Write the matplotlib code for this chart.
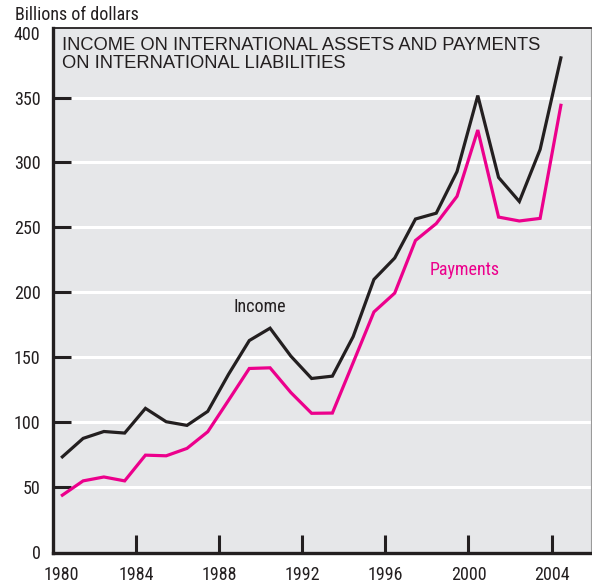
import matplotlib
matplotlib.use("Agg")
import matplotlib.pyplot as plt
from matplotlib import font_manager
from matplotlib.font_manager import FontProperties
import matplotlib.transforms as mtransforms

years = list(range(1980, 2005))
income = [73.5, 87.7, 93.0, 91.8, 110.8, 100.5, 97.7, 108.5, 137, 163, 172.5, 151, 133.8, 135.6,
          166, 210, 226.5, 256.5, 261, 293, 351.5, 288.5, 270, 310, 380.5]
payments = [44, 55, 58, 55, 74.8, 74.3, 80, 92.8, 117, 141.5, 142, 123, 107, 107.2,
            146, 185, 199.5, 240, 253, 274, 325, 258, 255, 257, 344]
xticks = [1980, 1984, 1988, 1992, 1996, 2000, 2004]
yticks = [0, 50, 100, 150, 200, 250, 300, 350, 400]

# find a condensed sans font
cands = []
for f in font_manager.fontManager.ttflist:
    st = str(f.stretch).lower()
    nm = f.name.lower()
    if f.style != "normal":
        continue
    if f.weight not in (400, "normal", "regular"):
        continue
    if "narrow" in nm or "condensed" in nm or "condensed" in st or "narrow" in st:
        cands.append(f)
def rank(f):
    nm = f.name.lower()
    for i, k in enumerate(["liberation sans narrow", "roboto condensed", "open sans", "noto sans", "dejavu sans"]):
        if nm.startswith(k):
            return i
    return 9
cands.sort(key=rank)
if cands:
    narrow_fp = lambda size: FontProperties(fname=cands[0].fname, size=size)
else:
    narrow_fp = lambda size: FontProperties(family="DejaVu Sans", stretch="condensed", size=size)

names = {f.name for f in font_manager.fontManager.ttflist}
regular = "Liberation Sans" if "Liberation Sans" in names else "DejaVu Sans"

fig = plt.figure(figsize=(5.92, 5.84), dpi=100)
ax = fig.add_axes([53/592, 1-553/584, (591-53)/592, (553-28)/584])
ax.set_facecolor("#e6e7e9")
ax.set_xlim(1980, 2005.9)
ax.set_ylim(-0.5, 403.5)

for y in yticks[1:-1]:
    ax.axhline(y, color="white", lw=2.2, zorder=1)

xs = [y + 0.45 for y in years]
ax.plot(xs, income, color="#231f20", lw=2.3, zorder=3, solid_joinstyle="miter")
ax.plot(xs, payments, color="#ec008c", lw=2.3, zorder=3, solid_joinstyle="miter")

ax.set_xticks(xticks)
ax.set_yticks(yticks)
ax.tick_params(axis="x", direction="in", length=13, width=2.2, color="#231f20", pad=9)
ax.tick_params(axis="y", direction="in", length=13, width=2.2, color="#231f20", pad=9)
for lab in ax.get_xticklabels() + ax.get_yticklabels():
    lab.set_fontproperties(narrow_fp(13))
    lab.set_color("#231f20")
# 1980 label nudged right as in reference
xl = ax.get_xticklabels()
xl[0].set_transform(xl[0].get_transform() + mtransforms.ScaledTranslation(8/100, 0, fig.dpi_scale_trans))
# hide tick marks at 0 and 400 (coincide with frame)
ylines = ax.yaxis.get_major_ticks()
ylines[0].tick1line.set_visible(False)
ylines[-1].tick1line.set_visible(False)
ax.xaxis.get_major_ticks()[0].tick1line.set_visible(False)

for s in ["left", "bottom"]:
    ax.spines[s].set_linewidth(2.4)
    ax.spines[s].set_color("#231f20")
ax.spines["top"].set_linewidth(1.3)
ax.spines["top"].set_color("#231f20")
ax.spines["right"].set_linewidth(0.8)
ax.spines["right"].set_color("#9a9a9a")

ax.text(0.017, 0.983, "INCOME ON INTERNATIONAL ASSETS AND PAYMENTS\nON INTERNATIONAL LIABILITIES",
        transform=ax.transAxes, ha="left", va="top", fontsize=13.2, family=regular,
        color="#231f20", linespacing=1.08)
ax.text(1989.96, 188.7, "Income", ha="center", va="center", fontproperties=narrow_fp(13), color="#231f20")
ax.text(1999.84, 217, "Payments", ha="center", va="center", fontproperties=narrow_fp(13), color="#ec008c")
fig.text(15/592, 1-15/584, "Billions of dollars", ha="left", va="center",
         fontproperties=narrow_fp(13), color="#231f20")

fig.savefig("out.png", dpi=100)
